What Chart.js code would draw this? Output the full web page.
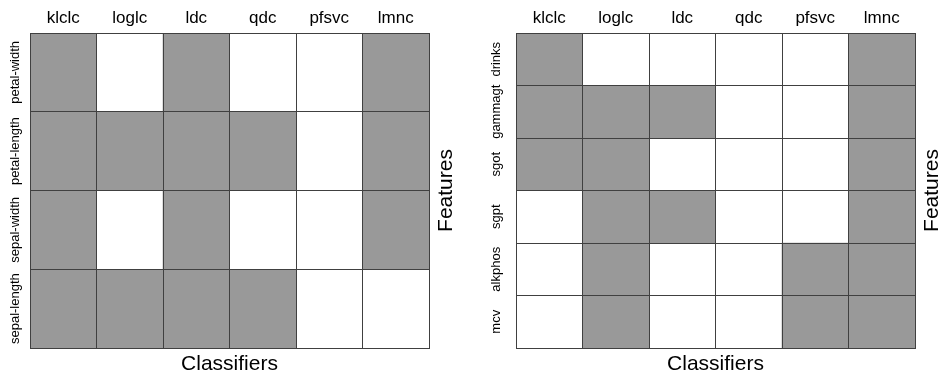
<!DOCTYPE html>
<html>
<head>
<meta charset="utf-8">
<script src="https://cdn.jsdelivr.net/npm/chart.js@4"></script>
<style>
  body { margin: 0; background: #fff; }
  #wrap { position: relative; width: 941px; height: 377px; }
  canvas { position: absolute; top: 0; }
</style>
</head>
<body>
<div id="wrap">
  <canvas id="iris" width="470" height="377" style="left:0"></canvas>
  <canvas id="liver" width="471" height="377" style="left:470px"></canvas>
</div>
<script>
// CLASSIFIERS (columns, same for both panels)
let classifiers = ["klclc", "loglc", "ldc", "qdc", "pfsvc", "lmnc"];

// LEFT PANEL - iris features, 1 = selected (gray cell)
let irisFeatures = ["petal-width", "petal-length", "sepal-width", "sepal-length"];
let petalWidth  = [1, 0, 1, 0, 0, 1];
let petalLength = [1, 1, 1, 1, 0, 1];
let sepalWidth  = [1, 0, 1, 0, 0, 1];
let sepalLength = [1, 1, 1, 1, 0, 0];

// RIGHT PANEL - liver features
let liverFeatures = ["drinks", "gammagt", "sgot", "sgpt", "alkphos", "mcv"];
let drinks  = [1, 0, 0, 0, 0, 1];
let gammagt = [1, 1, 1, 0, 0, 1];
let sgot    = [1, 1, 0, 0, 0, 1];
let sgpt    = [0, 1, 1, 0, 0, 1];
let alkphos = [0, 1, 0, 0, 1, 1];
let mcv     = [0, 1, 0, 0, 1, 1];

const FONT = '"Liberation Sans", Arial, Helvetica, sans-serif';
const LINE = "#404040";
const FILL = "#999999";

// rotated row labels + "Features" title, placed from the y scale
const sideText = {
    id: "sideText",
    afterDraw(chart, args, opts) {
        const { ctx, chartArea, scales } = chart;
        const y = scales.y;
        ctx.save();
        ctx.fillStyle = "#000";
        ctx.textAlign = "center";
        ctx.textBaseline = "middle";
        ctx.font = "13px " + FONT;
        y.getLabels().forEach((label, i) => {
            ctx.save();
            ctx.translate(chartArea.left - opts.labelGap, y.getPixelForValue(i));
            ctx.rotate(-Math.PI / 2);
            ctx.fillText(label, 0, 0);
            ctx.restore();
        });
        ctx.font = "21px " + FONT;
        ctx.translate(chartArea.right + opts.titleGap, (chartArea.top + chartArea.bottom) / 2);
        ctx.rotate(-Math.PI / 2);
        ctx.fillText("Features", 0, 0);
        ctx.restore();
    }
};

function makePanel(id, features, rows, leftW, rightW, labelGap, titleGap) {
    let datasets = classifiers.map((c, j) => ({
        label: c,
        data: rows.map(r => (r[j] ? [j, j + 1] : null)),
        backgroundColor: FILL,
        borderWidth: 0,
        grouped: false,
        barPercentage: 1,
        categoryPercentage: 1,
    }));

    new Chart(id, {
        type: "bar",
        data: { labels: features, datasets: datasets },
        plugins: [sideText],
        options: {
            indexAxis: "y",
            responsive: false,
            animation: false,
            layout: { padding: { right: rightW } },
            plugins: {
                legend: { display: false },
                tooltip: { enabled: false },
                sideText: { labelGap: labelGap, titleGap: titleGap },
            },
            scales: {
                x: {
                    type: "linear",
                    position: "bottom",
                    min: 0,
                    max: classifiers.length,
                    ticks: { display: false, stepSize: 1 },
                    grid: { color: LINE, drawTicks: false, z: 1 },
                    border: { color: LINE, z: 1 },
                    title: {
                        display: true,
                        text: "Classifiers",
                        color: "#000",
                        font: { family: FONT, size: 21 },
                        padding: { top: 0, bottom: 0 },
                    },
                    afterFit: s => { s.height = 29; },
                },
                top: {
                    type: "category",
                    position: "top",
                    labels: classifiers,
                    offset: true,
                    grid: { display: false, drawTicks: false },
                    border: { display: false },
                    ticks: { color: "#000", font: { family: FONT, size: 17 }, padding: 4 },
                    afterFit: s => { s.height = 33; },
                },
                y: {
                    type: "category",
                    position: "left",
                    offset: true,
                    ticks: { display: false },
                    grid: { color: LINE, offset: true, drawTicks: false, z: 1 },
                    border: { color: LINE, z: 1 },
                    afterFit: s => { s.width = leftW; },
                },
            },
        },
    });
}

makePanel("iris", irisFeatures, [petalWidth, petalLength, sepalWidth, sepalLength], 30, 41, 15, 17);
makePanel("liver", liverFeatures, [drinks, gammagt, sgot, sgpt, alkphos, mcv], 46, 26, 20, 17);
</script>
</body>
</html>
